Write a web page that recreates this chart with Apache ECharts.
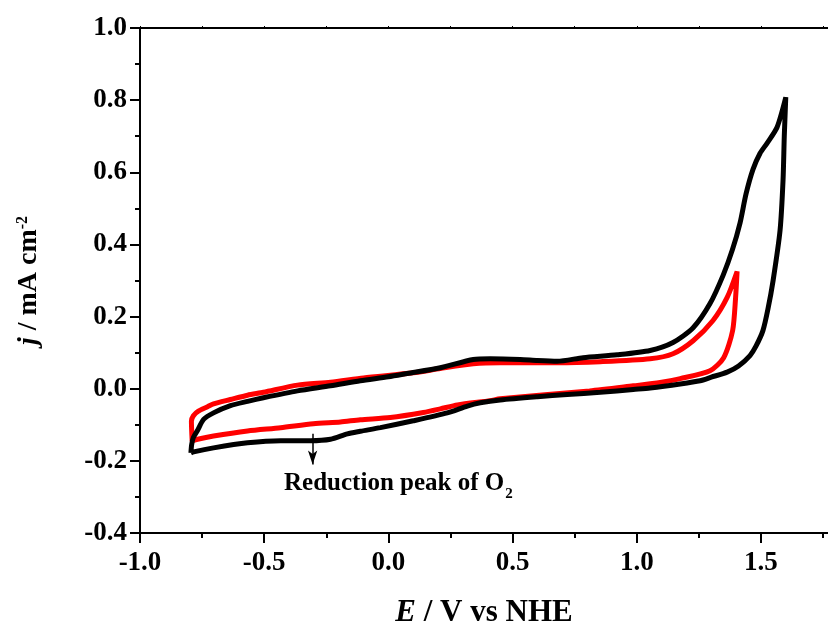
<!DOCTYPE html>
<html><head><meta charset="utf-8">
<script src="https://cdn.jsdelivr.net/npm/echarts@6/dist/echarts.min.js"></script>
<style>html,body{margin:0;padding:0;background:#fff}#c{width:828px;height:625px}</style>
</head><body><div id="c"></div>
<script>
// ---- data (E in V vs NHE, j in mA cm^-2) ----
const blackAnodicE = [-0.795,-0.792,-0.785,-0.768,-0.744,-0.704,-0.636,-0.567,-0.503,-0.366,-0.233,-0.113,0.0,0.076,0.209,0.342,0.41,0.531,0.6,0.68,0.784,0.921,1.054,1.146,1.227,1.295,1.348,1.385,1.416,1.44,1.468,1.496,1.525,1.565,1.6];
const blackAnodicJ = [-0.178,-0.155,-0.135,-0.115,-0.085,-0.067,-0.047,-0.035,-0.025,-0.006,0.008,0.022,0.033,0.042,0.058,0.081,0.083,0.081,0.078,0.076,0.086,0.094,0.106,0.128,0.169,0.236,0.315,0.385,0.46,0.54,0.608,0.652,0.681,0.725,0.808];
const blackCathodicE = [1.6,1.594,1.589,1.577,1.549,1.528,1.508,1.48,1.456,1.41,1.364,1.3,1.255,1.175,1.054,0.986,0.853,0.72,0.6,0.45,0.37,0.318,0.237,0.1,-0.032,-0.113,-0.165,-0.233,-0.314,-0.434,-0.567,-0.704,-0.784,-0.795];
const blackCathodicJ = [0.808,0.70,0.578,0.439,0.30,0.22,0.161,0.118,0.092,0.063,0.046,0.032,0.022,0.013,0.002,-0.002,-0.010,-0.016,-0.022,-0.031,-0.039,-0.048,-0.067,-0.089,-0.108,-0.118,-0.125,-0.140,-0.144,-0.144,-0.150,-0.164,-0.175,-0.178];
const redAnodicE = [-0.79,-0.793,-0.785,-0.765,-0.728,-0.704,-0.636,-0.567,-0.503,-0.366,-0.233,-0.1,0.1,0.209,0.342,0.45,0.68,0.853,1.054,1.146,1.227,1.307,1.364,1.404];
const redAnodicJ = [-0.145,-0.09,-0.075,-0.062,-0.05,-0.042,-0.03,-0.018,-0.01,0.01,0.018,0.03,0.044,0.056,0.069,0.072,0.072,0.075,0.083,0.097,0.133,0.189,0.253,0.325];
const redCathodicE = [1.404,1.398,1.386,1.35,1.295,1.175,1.094,0.986,0.81,0.45,0.41,0.278,0.209,0.141,0.008,-0.113,-0.193,-0.302,-0.434,-0.567,-0.704,-0.768,-0.79];
const redCathodicJ = [0.325,0.253,0.161,0.086,0.05,0.028,0.017,0.008,-0.006,-0.028,-0.033,-0.045,-0.056,-0.066,-0.08,-0.086,-0.092,-0.097,-0.108,-0.117,-0.131,-0.140,-0.145];
const xTicks = [-1.0,-0.5,0.0,0.5,1.0,1.5];
const xMinorTicks = [-1.0,-0.75,-0.5,-0.25,0,0.25,0.5,0.75,1.0,1.25,1.5,1.75];
const arrowFrom = [-0.305,-0.125];
const arrowTo = [-0.305,-0.210];
const noteAnchor = [-0.42,-0.262];
const noteText = 'Reduction peak of O';
const noteSub = '2';

function pairs(E,J){return E.map((e,i)=>[e,J[i]]);}
const blackData = pairs(blackAnodicE,blackAnodicJ).concat(pairs(blackCathodicE,blackCathodicJ));
const redData = pairs(redAnodicE,redAnodicJ).concat(pairs(redCathodicE,redCathodicJ));

const FF = '"Liberation Serif","Times New Roman",serif';
const lbl = {fontFamily:FF,fontWeight:'bold',fontSize:27,color:'#000'};
const axLine = {show:true,onZero:false,lineStyle:{color:'#000',width:2}};

const chart = echarts.init(document.getElementById('c'),null,{renderer:'canvas'});
chart.setOption({
  animation:false,
  backgroundColor:'#fff',
  grid:{left:140,right:0,top:28,bottom:92,containLabel:false,outerBoundsMode:'none'},
  xAxis:[
    {type:'value',min:-1,max:1.77,interval:0.5,position:'bottom',
     axisLine:axLine,
     axisTick:{show:true,length:10,customValues:xTicks,lineStyle:{color:'#000',width:2}},
     axisLabel:Object.assign({margin:17,customValues:xTicks,formatter:v=>v.toFixed(1)},lbl),
     splitLine:{show:false},
     name:'{i|E} / V vs NHE',nameLocation:'middle',nameGap:64,
     nameTextStyle:{fontFamily:FF,fontWeight:'bold',fontSize:31,color:'#000',
       rich:{i:{fontFamily:FF,fontWeight:'bold',fontStyle:'italic',fontSize:31,color:'#000'}}}},
    {type:'value',min:-1,max:1.77,interval:0.25,position:'bottom',
     axisLine:{show:false,onZero:false},
     axisTick:{show:true,length:5,customValues:xMinorTicks,lineStyle:{color:'#000',width:2}},
     axisLabel:{show:false},splitLine:{show:false}},
    {type:'value',min:-1,max:1.77,interval:0.25,position:'top',
     axisLine:axLine,
     axisTick:{show:true,length:2,customValues:xMinorTicks,lineStyle:{color:'#000',width:1}},
     axisLabel:{show:false},splitLine:{show:false}}
  ],
  yAxis:[
    {type:'value',min:-0.4,max:1.0,interval:0.2,position:'left',
     axisLine:axLine,
     axisTick:{show:true,length:10,lineStyle:{color:'#000',width:2}},
     minorTick:{show:true,splitNumber:2,length:5,lineStyle:{color:'#000',width:2}},
     axisLabel:Object.assign({margin:13,formatter:v=>v.toFixed(1)},lbl),
     splitLine:{show:false},minorSplitLine:{show:false},
     name:'{i|j} / mA cm{s|-2}',nameLocation:'middle',nameGap:97,nameRotate:90,
     nameTextStyle:{fontFamily:FF,fontWeight:'bold',fontSize:28,color:'#000',
       rich:{i:{fontFamily:FF,fontWeight:'bold',fontStyle:'italic',fontSize:28,color:'#000'},
             s:{fontFamily:FF,fontWeight:'bold',fontSize:16,color:'#000',verticalAlign:'top'}}}}
  ],
  series:[
    {type:'line',name:'red',data:redData,showSymbol:false,smooth:0.25,xAxisIndex:0,yAxisIndex:0,
     lineStyle:{color:'#ff0000',width:5},itemStyle:{color:'#ff0000'},z:2},
    {type:'line',name:'black',data:blackData,showSymbol:false,smooth:0.25,xAxisIndex:0,yAxisIndex:0,
     lineStyle:{color:'#000',width:5},itemStyle:{color:'#000'},z:3,
     markLine:{silent:true,symbol:['none','arrow'],symbolSize:[7,14],animation:false,
       lineStyle:{color:'#000',width:1.5,type:'solid'},label:{show:false},
       data:[[{coord:arrowFrom},{coord:arrowTo}]]},
     markPoint:{silent:true,symbol:'circle',symbolSize:0.01,animation:false,
       data:[{coord:noteAnchor,
         label:{show:true,position:'right',distance:0,
           formatter:'{m|'+noteText+'}{s|'+noteSub+'}',
           fontFamily:FF,fontWeight:'bold',fontSize:25,color:'#000',
           rich:{m:{fontFamily:FF,fontWeight:'bold',fontSize:25,lineHeight:25,color:'#000',verticalAlign:'top'},
                 s:{fontFamily:FF,fontWeight:'bold',fontSize:15,lineHeight:15,color:'#000',verticalAlign:'top',padding:[16,0,0,1]}}}}]}}
  ]
});
</script></body></html>
